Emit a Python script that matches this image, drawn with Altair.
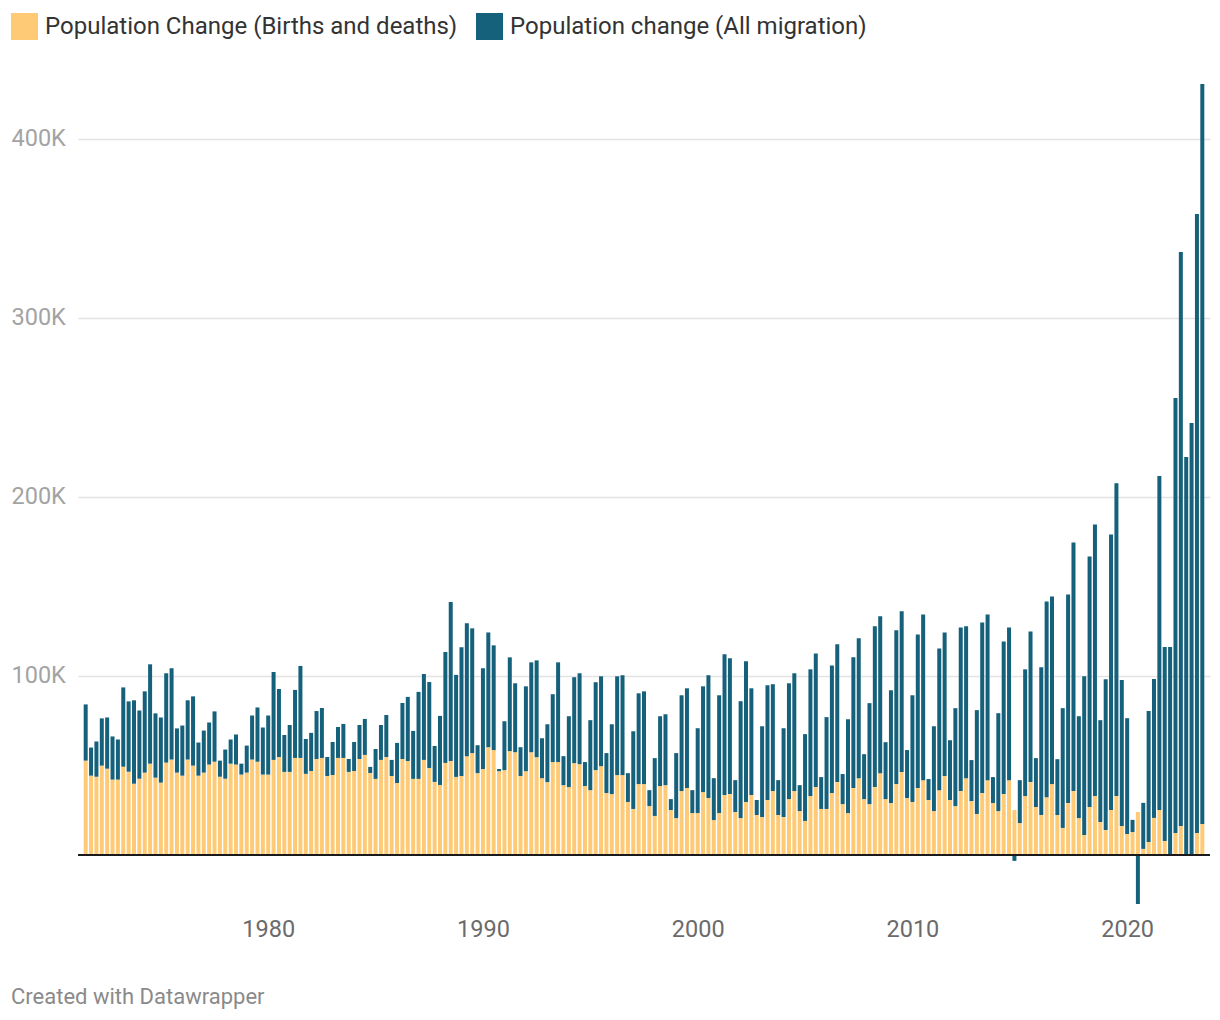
import altair as alt
import pandas as pd

# Quarterly series, first bar = 1971 Q3, last bar = 2023 Q3 (values in thousands)
start_year = 1971.5  # 1971 Q3

natural = [
    52.7, 44.3, 43.7, 49.9, 48.2, 42.1, 42.1, 49.3, 46.5, 39.8,
    42.6, 46.0, 51.0, 43.2, 40.4, 51.6, 53.3, 46.0, 44.3, 53.3,
    49.9, 44.3, 46.0, 50.5, 52.1, 43.7, 42.6, 51.0, 50.5, 44.9,
    46.0, 53.3, 52.1, 44.9, 44.9, 53.1, 54.7, 46.4, 46.4, 54.2,
    54.2, 45.3, 46.9, 53.6, 54.2, 44.1, 44.7, 54.2, 54.2, 46.4,
    46.9, 53.6, 55.9, 45.8, 42.5, 53.1, 54.7, 44.1, 40.2, 53.6,
    52.5, 42.5, 42.5, 53.1, 48.6, 40.8, 39.1, 51.4, 52.5, 43.6,
    44.1, 55.2, 56.9, 45.7, 48.0, 60.2, 58.6, 46.8, 47.4, 58.0,
    57.4, 44.1, 46.8, 57.4, 54.6, 42.9, 40.7, 51.9, 51.9, 39.0,
    37.9, 51.3, 50.7, 38.5, 36.2, 47.4, 49.6, 34.6, 34.0, 44.6,
    44.6, 29.6, 25.7, 39.6, 39.6, 27.3, 21.8, 38.5, 39.0, 25.1,
    20.6, 35.7, 37.4, 23.4, 23.4, 35.1, 31.8, 19.5, 23.4, 33.5,
    34.0, 24.0, 20.6, 29.6, 33.5, 22.3, 21.2, 30.7, 35.7, 22.3,
    21.2, 31.2, 35.7, 24.5, 19.0, 32.9, 37.9, 25.7, 25.7, 34.6,
    40.7, 28.4, 23.4, 37.4, 42.9, 31.2, 28.4, 37.9, 45.7, 31.2,
    29.0, 39.6, 46.3, 31.8, 29.6, 37.4, 41.8, 30.7, 24.5, 36.2,
    44.1, 30.7, 27.3, 35.7, 42.9, 30.1, 22.9, 34.6, 41.8, 29.0,
    24.5, 34.0, 41.8, 25.1, 17.8, 32.9, 40.7, 26.8, 22.3, 32.3,
    39.6, 22.3, 15.1, 29.0, 35.7, 20.6, 11.2, 26.8, 32.9, 18.4,
    13.9, 25.1, 32.9, 16.2, 11.7, 12.8, 24.0, 3.4, 7.3, 20.7,
    25.1, 7.8, 0.0, 12.3, 16.2, 0.0, 0.0, 12.3, 17.3,
]

migration = [
    31.4, 15.7, 19.7, 26.4, 28.6, 24.1, 22.4, 44.3, 39.3, 46.6,
    38.1, 45.4, 55.5, 35.9, 36.4, 49.9, 51.0, 24.7, 28.0, 33.1,
    38.7, 18.5, 23.5, 23.5, 28.1, 9.0, 16.3, 13.5, 16.8, 6.1,
    15.1, 24.6, 30.3, 26.3, 33.0, 49.1, 38.0, 20.6, 26.2, 38.0,
    51.4, 19.5, 21.3, 26.8, 27.9, 10.6, 18.4, 17.3, 19.0, 7.2,
    16.2, 19.0, 20.1, 3.4, 16.7, 19.5, 23.5, 9.0, 22.4, 31.3,
    35.8, 26.8, 48.6, 48.0, 48.0, 20.1, 38.6, 62.0, 88.8, 57.0,
    72.0, 74.2, 69.7, 15.6, 56.3, 64.1, 58.5, 1.2, 27.3, 52.4,
    38.5, 16.1, 47.4, 50.2, 54.1, 22.3, 32.3, 37.9, 55.7, 16.2,
    39.6, 48.0, 50.8, 13.4, 39.1, 49.1, 50.2, 22.3, 39.0, 55.2,
    55.8, 16.1, 43.4, 50.7, 51.8, 8.9, 32.3, 39.0, 39.6, 6.1,
    36.3, 53.5, 55.7, 12.8, 47.4, 59.1, 68.6, 23.4, 65.8, 78.6,
    75.9, 17.8, 65.3, 78.6, 59.6, 8.4, 50.7, 64.1, 59.7, 19.5,
    49.6, 64.7, 65.8, 14.5, 48.5, 70.8, 74.7, 17.8, 51.3, 71.3,
    77.0, 16.8, 52.4, 73.0, 78.1, 25.1, 56.4, 89.8, 87.6, 31.8,
    63.0, 85.9, 89.8, 26.8, 59.6, 85.8, 92.6, 11.7, 47.4, 79.2,
    80.2, 33.4, 54.7, 91.4, 84.8, 22.9, 58.0, 95.3, 92.6, 14.5,
    54.7, 85.3, 85.3, -3.3, 24.0, 70.8, 84.2, 27.3, 82.5, 109.3,
    104.8, 31.2, 66.9, 116.5, 138.8, 56.9, 88.6, 139.9, 151.7, 56.9,
    84.2, 153.9, 174.7, 81.5, 64.7, 6.8, -27.4, 25.7, 73.1, 77.6,
    186.6, 108.4, 116.2, 243.0, 320.7, 222.3, 241.3, 345.8, 413.4,
]

series_names = ["Population Change (Births and deaths)", "Population change (All migration)"]
series_colors = ["#ffca76", "#15607a"]
x_tick_years = [1980, 1990, 2000, 2010, 2020]
y_tick_values = [100, 200, 300, 400]

rows = []
for i, (n, m) in enumerate(zip(natural, migration)):
    t = start_year + i / 4
    rows.append({"t": t, "series": series_names[0], "value": n, "ord": 0})
    rows.append({"t": t, "series": series_names[1], "value": m, "ord": 1})
df = pd.DataFrame(rows)

FONT = "Roboto"

bars = alt.Chart(df).mark_bar(size=4).encode(
    x=alt.X(
        "t:Q",
        scale=alt.Scale(domain=[1971.375, 2023.625], nice=False, zero=False),
        axis=alt.Axis(
            values=x_tick_years, format="d", title=None, grid=False, domain=False,
            ticks=False, labelFontSize=23.5, labelColor="#6b6b6b", labelPadding=13,
            labelFont=FONT,
        ),
    ),
    y=alt.Y(
        "value:Q",
        stack="zero",
        scale=alt.Scale(domain=[-27.4, 430.7], nice=False, zero=False),
        axis=alt.Axis(
            values=y_tick_values, title=None, domain=False, ticks=False,
            labelExpr="datum.value + 'K'", labelAlign="left", labelBaseline="middle",
            labelPadding=67, labelFontSize=23.5, labelColor="#a3a3a3", labelFont=FONT,
            grid=True, gridColor="#e3e3e3", gridWidth=1.5,
        ),
    ),
    color=alt.Color(
        "series:N",
        scale=alt.Scale(domain=series_names, range=series_colors),
        legend=alt.Legend(
            title=None, orient="none", legendX=-67, legendY=-71, direction="horizontal",
            symbolType="square", symbolSize=729, symbolStrokeWidth=0, symbolOpacity=1,
            labelFontSize=24, labelFont=FONT, labelColor="#333333", labelOffset=7,
            columnPadding=18, padding=0, labelLimit=600,
        ),
    ),
    order=alt.Order("ord:Q", sort="ascending"),
)

zero_rule = alt.Chart(pd.DataFrame({"v": [0]})).mark_rule(color="#1a1a1a", strokeWidth=2).encode(
    y=alt.Y("v:Q")
)

credit = alt.Chart(pd.DataFrame({"txt": ["Created with Datawrapper"]})).mark_text(
    align="left", baseline="middle", fontSize=22, font=FONT, color="#8a8a8a"
).encode(text="txt:N", x=alt.value(-67), y=alt.value(913))

chart = alt.layer(bars, zero_rule, credit).properties(
    width=1132,
    height=820,
    autosize=alt.AutoSizeParams(type="none"),
    padding={"left": 70, "top": 76, "right": 2, "bottom": 110},
).configure_view(stroke=None)

chart.save("out.html", embed_options={"renderer": "svg", "actions": False})
